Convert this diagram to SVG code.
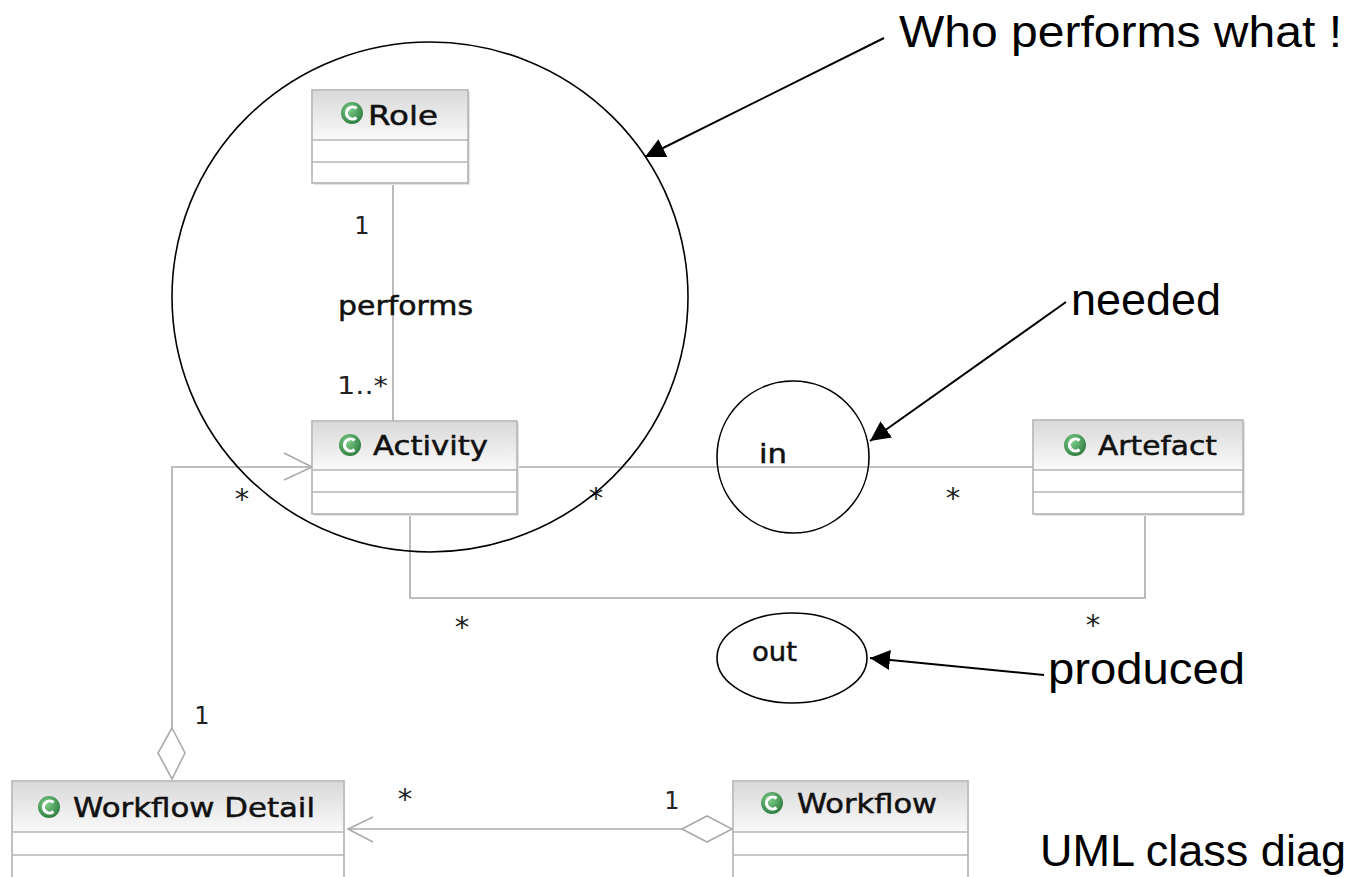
<svg xmlns="http://www.w3.org/2000/svg" width="1350" height="877" viewBox="0 0 1350 877">
<style>
.box{fill:#fff;stroke:#adadad;stroke-width:1.5}
.hdr{fill:url(#hg);stroke:none}
.sep{stroke:#b4b4b4;stroke-width:1.5}
.shadow{fill:#e4e4e4}
.cname{font-family:"DejaVu Sans",Verdana,sans-serif;font-size:27px;fill:#111;stroke:#111;stroke-width:0.5}
.conn{fill:none;stroke:#ababab;stroke-width:1.6}
.mult{font-family:"DejaVu Sans",Verdana,sans-serif;font-size:24px;fill:#222}
.star{font-family:"DejaVu Sans",Verdana,sans-serif;font-size:29px;fill:#222}
.lbl{font-family:"DejaVu Sans",Verdana,sans-serif;font-size:26px;fill:#111;stroke:#111;stroke-width:0.5}
.note{font-family:"Liberation Sans",Arial,sans-serif;font-size:45px;fill:#000}
.ring{fill:none;stroke:#000;stroke-width:1.6}
.call{fill:none;stroke:#000;stroke-width:2}
.ic{fill:url(#ig)}
.icc{fill:none;stroke:#fff;stroke-width:3.2}
</style>
<defs>
<linearGradient id="hg" x1="0" y1="0" x2="0" y2="1">
<stop offset="0" stop-color="#d9d9d9"/>
<stop offset="1" stop-color="#fafafa"/>
</linearGradient>
<radialGradient id="ig" cx="0.4" cy="0.35" r="0.7">
<stop offset="0" stop-color="#7fcf8a"/>
<stop offset="1" stop-color="#2b7a3e"/>
</radialGradient>
<marker id="ah" viewBox="0 0 20 20" refX="20" refY="10" markerWidth="20" markerHeight="20" markerUnits="userSpaceOnUse" orient="auto">
<path d="M0,0 L20,10 L0,20 z" fill="#000"/>
</marker>
</defs>
<rect width="1350" height="877" fill="#fff"/>

<g id="connectors">
<line class="conn" x1="393" y1="183" x2="393" y2="421"/>
<polyline class="conn" points="172,728 172,467 312,467"/>
<polyline class="conn" points="284,453 312,467 284,480"/>
<polygon class="conn" points="172,728 185,753 172,779 158,753"/>
<line class="conn" x1="517" y1="467" x2="1033" y2="467"/>
<polyline class="conn" points="410,514 410,598 1145,598 1145,514"/>
<line class="conn" x1="348" y1="829" x2="682" y2="829"/>
<polyline class="conn" points="373,817 348,829 373,842"/>
<polygon class="conn" points="682,829 707,816 732,829 707,842"/>
<text class="mult" x="362" y="234" text-anchor="middle">1</text>
<text class="lbl" x="338" y="315" textLength="135" lengthAdjust="spacingAndGlyphs">performs</text>
<text class="mult" x="337" y="394" textLength="51" lengthAdjust="spacingAndGlyphs">1..*</text>
<text class="star" x="242" y="509" text-anchor="middle">*</text>
<text class="star" x="596" y="508" text-anchor="middle">*</text>
<text class="star" x="953" y="508" text-anchor="middle">*</text>
<text class="lbl" x="759" y="463" textLength="28" lengthAdjust="spacingAndGlyphs">in</text>
<text class="star" x="462" y="637" text-anchor="middle">*</text>
<text class="star" x="1093" y="635" text-anchor="middle">*</text>
<text class="lbl" x="752" y="661" textLength="45" lengthAdjust="spacingAndGlyphs">out</text>
<text class="mult" x="202" y="724" text-anchor="middle">1</text>
<text class="star" x="405" y="809" text-anchor="middle">*</text>
<text class="mult" x="672" y="809" text-anchor="middle">1</text>
</g>

<g id="Role">
<rect class="shadow" x="314" y="92" width="156" height="93"/>
<rect class="box" x="312" y="90" width="156" height="93"/>
<rect class="hdr" x="313" y="91" width="154" height="49"/>
<line class="sep" x1="312" y1="140" x2="468" y2="140"/>
<line class="sep" x1="312" y1="162" x2="468" y2="162"/>
<circle class="ic" cx="352" cy="113" r="11"/>
<path class="icc" d="M356.5,108.5 A6,6 0 1 0 356.5,117.5"/>
<text class="cname" x="368" y="125" textLength="70" lengthAdjust="spacingAndGlyphs">Role</text>
</g>

<g id="Activity">
<rect class="shadow" x="314" y="423" width="205" height="93"/>
<rect class="box" x="312" y="421" width="205" height="93"/>
<rect class="hdr" x="313" y="422" width="203" height="48"/>
<line class="sep" x1="312" y1="470" x2="517" y2="470"/>
<line class="sep" x1="312" y1="492" x2="517" y2="492"/>
<circle class="ic" cx="350" cy="445" r="11"/>
<path class="icc" d="M354.5,440.5 A6,6 0 1 0 354.5,449.5"/>
<text class="cname" x="373" y="455" textLength="115" lengthAdjust="spacingAndGlyphs">Activity</text>
</g>

<g id="Artefact">
<rect class="shadow" x="1035" y="422" width="210" height="94"/>
<rect class="box" x="1033" y="420" width="210" height="94"/>
<rect class="hdr" x="1034" y="421" width="208" height="49"/>
<line class="sep" x1="1033" y1="470" x2="1243" y2="470"/>
<line class="sep" x1="1033" y1="492" x2="1243" y2="492"/>
<circle class="ic" cx="1075" cy="445" r="11"/>
<path class="icc" d="M1079.5,440.5 A6,6 0 1 0 1079.5,449.5"/>
<text class="cname" x="1098" y="455" textLength="119" lengthAdjust="spacingAndGlyphs">Artefact</text>
</g>

<g id="WorkflowDetail">
<rect class="box" x="12" y="781" width="332" height="110"/>
<rect class="hdr" x="13" y="782" width="330" height="50"/>
<line class="sep" x1="12" y1="832" x2="344" y2="832"/>
<line class="sep" x1="12" y1="855" x2="344" y2="855"/>
<circle class="ic" cx="49" cy="807" r="11"/>
<path class="icc" d="M53.5,802.5 A6,6 0 1 0 53.5,811.5"/>
<text class="cname" x="73" y="817" textLength="242" lengthAdjust="spacingAndGlyphs">Workflow Detail</text>
</g>

<g id="Workflow">
<rect class="box" x="733" y="781" width="235" height="110"/>
<rect class="hdr" x="734" y="782" width="233" height="50"/>
<line class="sep" x1="733" y1="832" x2="968" y2="832"/>
<line class="sep" x1="733" y1="855" x2="968" y2="855"/>
<circle class="ic" cx="772" cy="803" r="11"/>
<path class="icc" d="M776.5,798.5 A6,6 0 1 0 776.5,807.5"/>
<text class="cname" x="797" y="813" textLength="140" lengthAdjust="spacingAndGlyphs">Workflow</text>
</g>

<g id="annotations">
<ellipse class="ring" cx="430" cy="297" rx="258" ry="255"/>
<circle class="ring" cx="793" cy="457" r="76"/>
<ellipse class="ring" cx="792" cy="658" rx="75" ry="45"/>
<line class="call" x1="884" y1="38" x2="645" y2="157" marker-end="url(#ah)"/>
<line class="call" x1="1066" y1="302" x2="870" y2="441" marker-end="url(#ah)"/>
<line class="call" x1="1044" y1="675" x2="870" y2="658" marker-end="url(#ah)"/>
<text class="note" x="899" y="47" textLength="443" lengthAdjust="spacingAndGlyphs">Who performs what !</text>
<text class="note" x="1071" y="315" textLength="150" lengthAdjust="spacingAndGlyphs">needed</text>
<text class="note" x="1048" y="684" textLength="197" lengthAdjust="spacingAndGlyphs">produced</text>
<text class="note" x="1040" y="866" font-size="42">UML class diag</text>
</g>
</svg>
